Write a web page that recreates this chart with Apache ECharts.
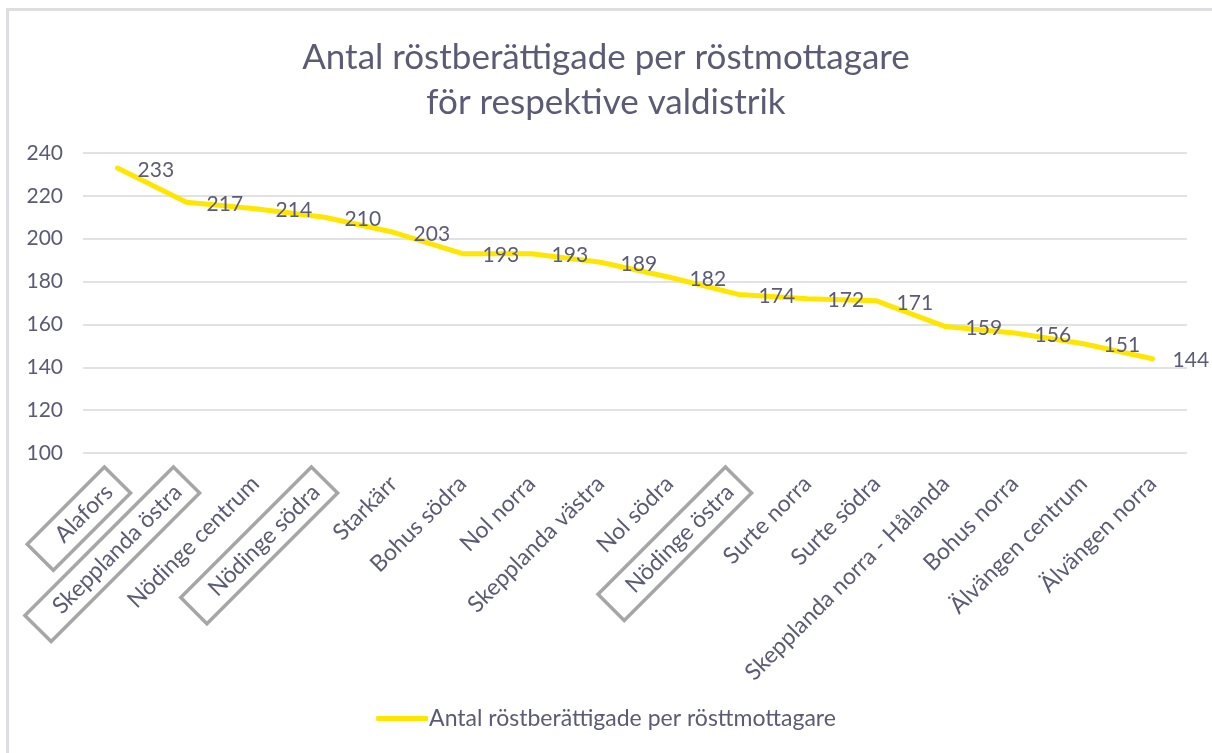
<!DOCTYPE html>
<html>
<head>
<meta charset="utf-8">
<script src="https://cdn.jsdelivr.net/npm/echarts@6/dist/echarts.min.js"></script>
<style>
html,body{margin:0;padding:0;background:#fff;}
#frame{position:absolute;left:6px;top:8px;width:1206px;height:745px;border-left:3px solid #dedde3;border-top:3px solid #dedde3;box-sizing:border-box;}
#chart{position:absolute;left:0;top:0;width:1212px;height:753px;}
</style>
</head>
<body>
<div id="frame"></div>
<div id="chart"></div>
<script>
const titleLines = ['Antal röstberättigade per röstmottagare', 'för respektive valdistrik'];
const seriesName = 'Antal röstberättigade per rösttmottagare';
const categories = ['Alafors', 'Skepplanda östra', 'Nödinge centrum', 'Nödinge södra', 'Starkärr', 'Bohus södra', 'Nol norra', 'Skepplanda västra', 'Nol södra', 'Nödinge östra', 'Surte norra', 'Surte södra', 'Skepplanda norra - Hålanda', 'Bohus norra', 'Älvängen centrum', 'Älvängen norra'];
const values = [233, 217, 214, 210, 203, 193, 193, 189, 182, 174, 172, 171, 159, 156, 151, 144];
const boxedCategories = ['Alafors', 'Skepplanda östra', 'Nödinge södra', 'Nödinge östra'];
const yTicks = { min: 100, max: 240, interval: 20 };

const FONT = 'Lato';
const TXT = '#5b5b76';

const chart = echarts.init(document.getElementById('chart'), null, { renderer: 'canvas' });
chart.setOption({
  backgroundColor: 'transparent',
  animation: false,
  title: {
    text: titleLines.join('\n'),
    left: 'center',
    top: 30,
    textStyle: { fontFamily: FONT, fontSize: 35, fontWeight: 'normal', color: TXT, lineHeight: 45 }
  },
  legend: {
    bottom: 18,
    left: 'center',
    icon: 'roundRect',
    itemWidth: 52,
    itemHeight: 5,
    itemGap: 10,
    textStyle: { fontFamily: FONT, fontSize: 23, color: TXT, padding: [0, 0, 0, -4] },
    data: [seriesName]
  },
  grid: { left: 83, right: 25, top: 153, bottom: 300, containLabel: false },
  xAxis: {
    type: 'category',
    boundaryGap: true,
    data: categories.map(c => boxedCategories.includes(c)
      ? { value: c, textStyle: { borderColor: '#a6a6a6', borderWidth: 3.5, padding: [7, 12, 7, 26] } }
      : c),
    axisLine: { show: false },
    axisTick: { show: false },
    axisLabel: { rotate: 45, interval: 0, margin: 27, fontFamily: FONT, fontSize: 23, color: TXT }
  },
  yAxis: {
    type: 'value',
    min: yTicks.min,
    max: yTicks.max,
    interval: yTicks.interval,
    axisLine: { show: false },
    axisTick: { show: false },
    axisLabel: { margin: 20, fontFamily: FONT, fontSize: 21, color: TXT },
    splitLine: { lineStyle: { color: '#d9d9dc', width: 1.5 } }
  },
  series: [{
    name: seriesName,
    type: 'line',
    data: values,
    symbol: 'circle',
    symbolSize: 0.1,
    showSymbol: true,
    itemStyle: { color: '#ffe600' },
    lineStyle: { color: '#ffe600', width: 5, cap: 'round', join: 'round' },
    label: {
      show: true,
      position: 'right',
      distance: 20,
      fontFamily: FONT,
      fontSize: 21,
      color: TXT,
      offset: [0, 2]
    }
  }]
});
</script>
</body>
</html>
